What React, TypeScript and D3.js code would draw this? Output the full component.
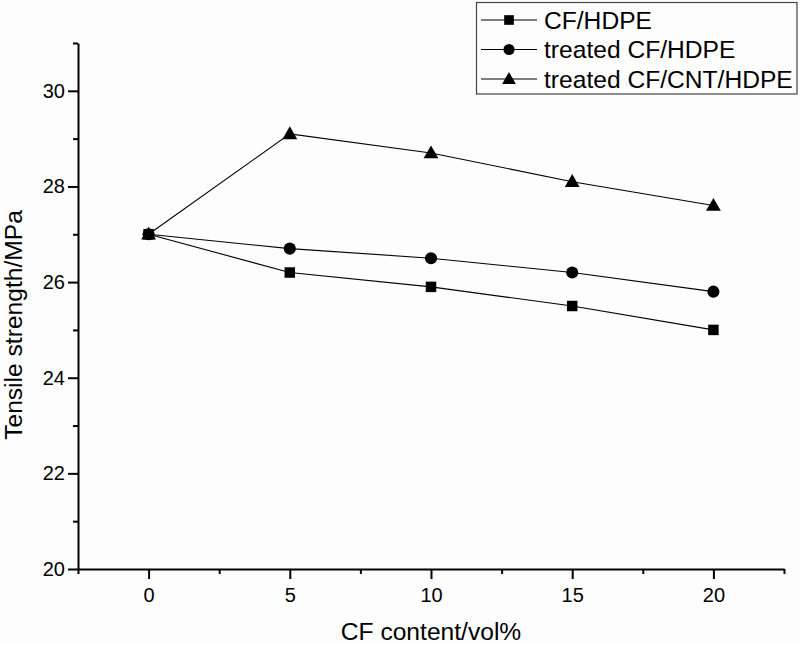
import { useRef, useEffect } from 'react';
import * as d3 from 'd3';

// CF content (vol%)
const cfContent = [0, 5, 10, 15, 20];

// Tensile strength (MPa) per series
const cfHdpe = [27.0, 26.2, 25.9, 25.5, 25.0];
const treatedCfHdpe = [27.0, 26.7, 26.5, 26.2, 25.8];
const treatedCfCntHdpe = [27.0, 29.1, 28.7, 28.1, 27.6];

const seriesNames = ['CF/HDPE', 'treated CF/HDPE', 'treated CF/CNT/HDPE'];
const seriesShapes = ['square', 'circle', 'triangle'];

const xMajorTicks = [0, 5, 10, 15, 20];
const xMinorTicks = [-2.5, 2.5, 7.5, 12.5, 17.5, 22.5];
const yMajorTicks = [20, 22, 24, 26, 28, 30];
const yMinorTicks = [21, 23, 25, 27, 29, 31];

const WIDTH = 800;
const HEIGHT = 645;
const FONT = '"Liberation Sans", Arial, sans-serif';

const symbolFor = (shape: string) =>
  shape === 'square' ? d3.symbolSquare : shape === 'circle' ? d3.symbolCircle : d3.symbolTriangle;

const sizeFor = (shape: string) => (shape === 'square' ? 110 : shape === 'circle' ? 115 : 95);

export default function App() {
  const svgRef = useRef<SVGSVGElement>(null);

  useEffect(() => {
    if (!svgRef.current) return;
    const svg = d3.select(svgRef.current);
    svg.selectAll('*').remove();

    const x = d3.scaleLinear().domain([-2.5, 22.5]).range([78, 784]);
    const y = d3.scaleLinear().domain([20, 31]).range([569, 43]);

    svg.append('rect').attr('width', WIDTH).attr('height', HEIGHT).attr('fill', '#fdfdfd');

    // Minor ticks
    svg.append('g')
      .attr('transform', `translate(0,${y(20)})`)
      .call(d3.axisBottom(x).tickValues(xMinorTicks).tickSize(5).tickFormat(() => ''))
      .call(g => g.select('.domain').remove())
      .selectAll('line').attr('stroke', '#000').attr('stroke-width', 2);
    svg.append('g')
      .attr('transform', `translate(${x(-2.5)},0)`)
      .call(d3.axisLeft(y).tickValues(yMinorTicks).tickSize(5).tickFormat(() => ''))
      .call(g => g.select('.domain').remove())
      .selectAll('line').attr('stroke', '#000').attr('stroke-width', 2);

    // Major axes
    const xAxis = svg.append('g')
      .attr('transform', `translate(0,${y(20)})`)
      .call(d3.axisBottom(x).tickValues(xMajorTicks).tickSize(10).tickSizeOuter(0).tickPadding(9));
    const yAxis = svg.append('g')
      .attr('transform', `translate(${x(-2.5)},0)`)
      .call(d3.axisLeft(y).tickValues(yMajorTicks).tickSize(10).tickSizeOuter(0).tickPadding(3));

    [xAxis, yAxis].forEach(a => {
      a.select('.domain').attr('stroke', '#000').attr('stroke-width', 2);
      a.selectAll('line').attr('stroke', '#000').attr('stroke-width', 2);
      a.selectAll('text')
        .attr('fill', '#000')
        .style('font-family', FONT)
        .style('font-size', '20px');
    });

    // Series
    const allSeries = [cfHdpe, treatedCfHdpe, treatedCfCntHdpe];
    const line = d3.line<number>()
      .x((_, i) => x(cfContent[i]))
      .y(d => y(d));

    allSeries.forEach(values => {
      svg.append('path')
        .datum(values)
        .attr('d', line)
        .attr('fill', 'none')
        .attr('stroke', '#000')
        .attr('stroke-width', 1.1);
    });

    allSeries.forEach((values, s) => {
      const shape = seriesShapes[s];
      svg.append('g')
        .selectAll('path')
        .data(values)
        .join('path')
        .attr('d', d3.symbol().type(symbolFor(shape)).size(sizeFor(shape))())
        .attr('transform', (d, i) => `translate(${x(cfContent[i])},${y(d) + (shape === 'triangle' ? 1 : 0)})`)
        .attr('fill', '#000');
    });

    // Axis titles
    svg.append('text')
      .attr('x', (x(-2.5) + x(22.5)) / 2)
      .attr('y', 640)
      .attr('text-anchor', 'middle')
      .style('font-family', FONT)
      .style('font-size', '24.6px')
      .attr('fill', '#000')
      .text('CF content/vol%');

    svg.append('text')
      .attr('transform', 'rotate(-90)')
      .attr('x', -325)
      .attr('y', 22)
      .attr('text-anchor', 'middle')
      .style('font-family', FONT)
      .style('font-size', '24.6px')
      .attr('fill', '#000')
      .text('Tensile strength/MPa');

    // Legend
    const legend = svg.append('g');
    legend.append('rect')
      .attr('x', 476.5)
      .attr('y', 2.5)
      .attr('width', 320.5)
      .attr('height', 91.5)
      .attr('fill', 'none')
      .attr('stroke', '#444')
      .attr('stroke-width', 1.2);

    seriesNames.forEach((name, i) => {
      const ry = 20 + i * 29.5;
      const shape = seriesShapes[i];
      legend.append('line')
        .attr('x1', 481).attr('x2', 537)
        .attr('y1', ry).attr('y2', ry)
        .attr('stroke', '#000').attr('stroke-width', 1.1);
      legend.append('path')
        .attr('d', d3.symbol().type(symbolFor(shape)).size(sizeFor(shape) * 0.85)())
        .attr('transform', `translate(509,${ry + (shape === 'triangle' ? 1 : 0)})`)
        .attr('fill', '#000');
      legend.append('text')
        .attr('x', 544)
        .attr('y', ry + 8.5)
        .style('font-family', FONT)
        .style('font-size', '24.6px')
        .attr('fill', '#000')
        .text(name);
    });
  }, []);

  return (
    <svg
      ref={svgRef}
      width={WIDTH}
      height={HEIGHT}
      style={{ position: 'absolute', left: 0, top: 0, display: 'block' }}
    />
  );
}
